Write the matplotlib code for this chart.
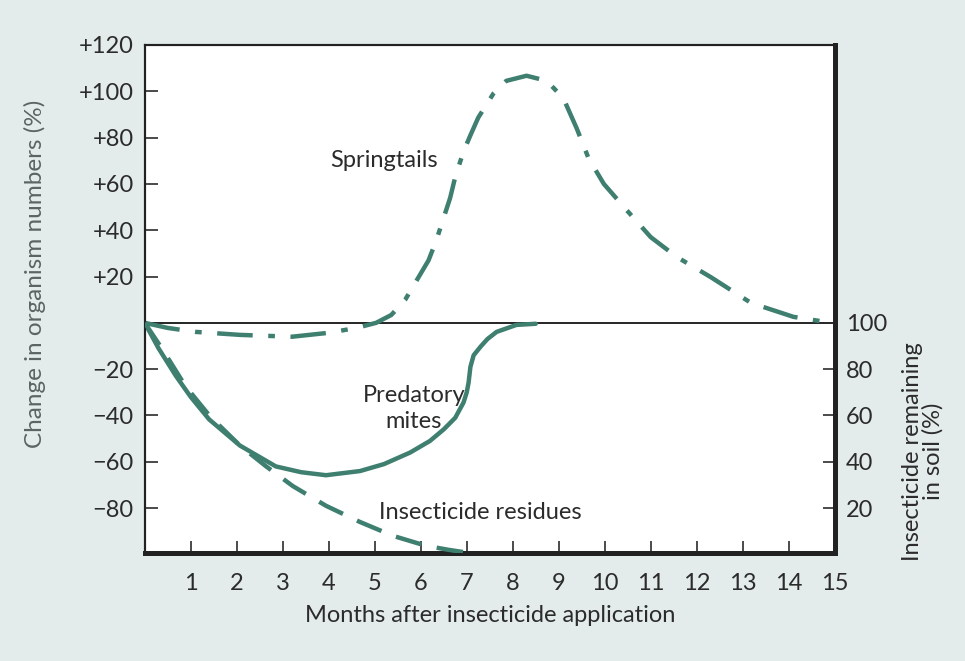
import matplotlib
matplotlib.use("Agg")
import matplotlib.pyplot as plt

# months after application, change in numbers (%)
spring_x = [0, 0.5, 1.1, 2.07, 3.2, 4.0, 4.6, 5.03, 5.36, 5.66, 6.17, 6.34, 6.64, 6.75, 6.93,
            7.08, 7.25, 7.58, 7.86, 8.3, 8.74, 9.1, 9.39, 9.65, 9.98, 10.48, 11.0, 11.57,
            12.3, 13.18, 14.1, 14.77, 15.0]
spring_y = [0, -2.2, -3.9, -5.2, -6, -4.3, -2.2, 0, 3.4, 9.9, 27, 35.7, 54, 63, 74,
            81, 88.6, 99, 104.5, 106.7, 104.5, 97, 84, 71, 60, 48.6, 37, 28.4,
            19.8, 8.6, 2.6, 0.5, 0]

mites_x = [0, 0.3, 0.68, 1.0, 1.4, 2.07, 2.85, 3.4, 3.94, 4.68, 5.2, 5.77, 6.2, 6.5, 6.75,
           6.93, 7.0, 7.04, 7.08, 7.15, 7.3, 7.45, 7.65, 8.08, 8.5]
mites_y = [0, -11, -23, -32, -41.7, -53, -62, -64.5, -65.8, -64, -61, -56, -51, -46, -41,
           -34.4, -30, -25.8, -19, -14, -10.3, -7, -3.9, -0.9, -0.4]

# insecticide remaining in soil (%), right axis
resid_x = [0, 0.39, 0.89, 1.42, 2.07, 2.64, 3.22, 3.94, 4.68, 5.4, 6.12, 6.6, 6.93]
resid_y = [100, 88.4, 72.5, 59.6, 47, 38, 29.5, 21, 14, 8, 3.7, 2, 1]

left_ticks = [120, 100, 80, 60, 40, 20, -20, -40, -60, -80]
left_labels = ["+120", "+100", "+80", "+60", "+40", "+20", "\u221220", "\u221240", "\u221260", "\u221280"]
right_ticks = [20, 40, 60, 80, 100]
months = list(range(1, 16))

green = "#3f7f70"
ink = "#2b2b2b"
bg = "#e3ecea"

plt.rcParams["font.family"] = ["Lato", "DejaVu Sans"]

fig = plt.figure(figsize=(9.65, 6.61), dpi=100, facecolor=bg)
ax = fig.add_axes([0.150, 0.163, 0.715, 0.769])
ax.set_facecolor("white")

ax.axhline(0, color="black", lw=1.2, zorder=1)
ax.plot(spring_x, spring_y, color=green, lw=3.2, dashes=(8, 3.5, 1.5, 3.5), zorder=3)
ax.plot(mites_x, mites_y, color=green, lw=3.2, solid_capstyle="round", zorder=3)

ax.set_xlim(0, 15)
ax.set_ylim(-99.5, 120)
ax.set_xticks(months)
ax.set_xticklabels([str(m) for m in months])
ax.set_yticks(left_ticks)
ax.set_yticklabels(left_labels)
ax.tick_params(direction="in", length=9, width=1.2, labelsize=17, colors=ink, pad=8)
ax.tick_params(axis="x", pad=14)
ax.set_xlabel("Months after insecticide application", fontsize=17, color=ink, labelpad=8)
ax.set_ylabel("Change in organism numbers (%)", fontsize=17.5, color="#5a6563")
ax.yaxis.set_label_coords(-0.143, 0.55)

ax2 = ax.twinx()
ax2.plot(resid_x, resid_y, color=green, lw=3.2, dashes=(6, 3.5), zorder=3)
ax2.set_ylim(0.5, 220)
ax2.set_yticks(right_ticks)
ax2.tick_params(direction="in", length=9, width=1.2, labelsize=17, colors=ink, pad=8)
ax2.set_ylabel("Insecticide remaining\nin soil (%)", fontsize=17, color=ink,
               linespacing=0.95)
ax2.yaxis.set_label_coords(1.098, 0.2)

for a in (ax, ax2):
    a.spines["left"].set_linewidth(1.5)
    a.spines["top"].set_linewidth(1.5)
    a.spines["bottom"].set_linewidth(3.5)
    a.spines["right"].set_linewidth(3.5)
    for s in a.spines.values():
        s.set_color("#222222")

ax.text(5.2, 70, "Springtails", fontsize=17, color=ink, ha="center", va="center")
ax.text(5.85, -37, "Predatory\nmites", fontsize=17, color=ink, ha="center", va="center",
        linespacing=1.25)
ax.text(7.3, -82, "Insecticide residues", fontsize=17, color=ink, ha="center", va="center")

fig.savefig("out.png", dpi=100, facecolor=bg)
